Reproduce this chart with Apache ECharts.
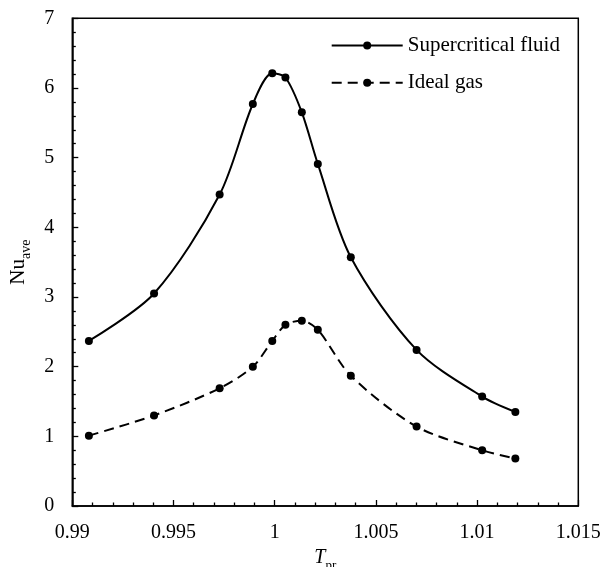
<!DOCTYPE html>
<html>
<head>
<meta charset="utf-8">
<script src="https://cdn.jsdelivr.net/npm/echarts@6/dist/echarts.min.js"></script>
<style>
html,body{margin:0;padding:0;background:#fff;}
#chart{width:611px;height:567px;}
</style>
</head>
<body>
<div id="chart"></div>
<script>
// Data
var tpr = [0.99082, 0.99404, 0.99728, 0.99892, 0.99988, 1.00053, 1.00134, 1.00213, 1.00376, 1.00701, 1.01025, 1.01189];
var supercritical = [2.37, 3.05, 4.47, 5.77, 6.21, 6.15, 5.65, 4.91, 3.57, 2.24, 1.57, 1.35];
var idealGas = [1.01, 1.30, 1.69, 2.00, 2.37, 2.60, 2.66, 2.53, 1.87, 1.14, 0.80, 0.68];
var xTickLabels = ['0.99', '0.995', '1', '1.005', '1.01', '1.015'];
var yTickLabels = ['0', '1', '2', '3', '4', '5', '6', '7'];
var seriesNames = ['Supercritical fluid', 'Ideal gas'];

function pairs(xs, ys) { return xs.map(function (x, i) { return [x, ys[i]]; }); }

var FONT = '"Liberation Serif", "Times New Roman", serif';
var chart = echarts.init(document.getElementById('chart'), null, {renderer: 'canvas'});
chart.setOption({
  backgroundColor: '#fff',
  animation: false,
  grid: {left: 72.3, right: 32.7, top: 18.3, bottom: 61, containLabel: false, outerBoundsMode: 'none',
    show: true, borderColor: '#000', borderWidth: 1.5, backgroundColor: 'transparent'},
  legend: {
    orient: 'vertical', left: 330.7, top: 35, padding: 0, itemWidth: 71, itemHeight: 10, itemGap: 16.2,
    textStyle: {fontFamily: FONT, fontSize: 21, color: '#000'},
    data: seriesNames
  },
  xAxis: {
    type: 'value', min: 0.99, max: 1.015, interval: 0.005,
    axisLine: {onZero: false, lineStyle: {color: '#000', width: 1.5}},
    axisTick: {inside: true, length: 6, lineStyle: {color: '#000', width: 1.3}},
    minorTick: {show: true, splitNumber: 5, length: 3.5, lineStyle: {color: '#000', width: 1.3}},
    splitLine: {show: false},
    axisLabel: {fontFamily: FONT, fontSize: 20, color: '#000', margin: 17,
      formatter: function (v, i) { return xTickLabels[i]; }},
    name: '{t|T}{s|pr}', nameLocation: 'middle', nameGap: 35,
    nameTextStyle: {rich: {
      t: {fontFamily: FONT, fontSize: 20, fontStyle: 'italic', color: '#000', lineHeight: 20, verticalAlign: 'top'},
      s: {fontFamily: FONT, fontSize: 13, color: '#000', lineHeight: 13, padding: [11, 0, 0, 0], verticalAlign: 'top'}
    }}
  },
  yAxis: {
    type: 'value', min: 0, max: 7, interval: 1,
    axisLine: {onZero: false, lineStyle: {color: '#000', width: 1.5}},
    axisTick: {inside: true, length: 6, lineStyle: {color: '#000', width: 1.3}},
    minorTick: {show: true, splitNumber: 5, length: 3.5, lineStyle: {color: '#000', width: 1.3}},
    splitLine: {show: false},
    axisLabel: {fontFamily: FONT, fontSize: 20, color: '#000', margin: 18,
      formatter: function (v, i) { return yTickLabels[i]; }},
    name: '{t|Nu}{s|ave}', nameLocation: 'middle', nameGap: 37, nameRotate: 90,
    nameTextStyle: {rich: {
      t: {fontFamily: FONT, fontSize: 21, color: '#000', lineHeight: 21, verticalAlign: 'top'},
      s: {fontFamily: FONT, fontSize: 14, color: '#000', lineHeight: 14, padding: [11, 0, 0, 0], verticalAlign: 'top'}
    }}
  },
  series: [
    {
      name: seriesNames[0], type: 'line', data: pairs(tpr, supercritical), smooth: 0.3,
      symbol: 'circle', symbolSize: 8, color: '#000',
      lineStyle: {color: '#000', width: 2, type: 'solid'},
      itemStyle: {color: '#000'}
    },
    {
      name: seriesNames[1], type: 'line', data: pairs(tpr, idealGas), smooth: 0.3,
      symbol: 'circle', symbolSize: 8, color: '#000',
      lineStyle: {color: '#000', width: 2, type: [10, 6]},
      itemStyle: {color: '#000'}
    }
  ]
});
</script>
</body>
</html>
